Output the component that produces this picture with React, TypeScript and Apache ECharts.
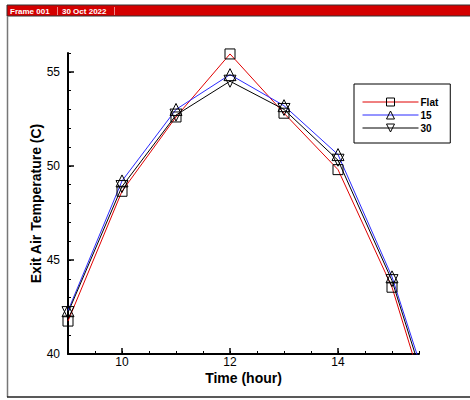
import React, { useEffect, useRef } from "react";
import * as echarts from "echarts";

const hours = [9, 10, 11, 12, 13, 14, 15, 16];
const flatValues = [41.75, 48.65, 52.6, 55.95, 52.8, 49.8, 43.55, 34.2];
const tilt15Values = [42.3, 49.2, 53.0, 54.85, 53.2, 50.6, 44.1, 35.2];
const tilt30Values = [42.2, 48.9, 52.7, 54.5, 53.0, 50.3, 43.9, 34.8];
const seriesNames = ["Flat", "15", "30"];
const xMajorTicks = [10, 12, 14];
const yMajorTicks = [40, 45, 50, 55];

const FONT = "'Liberation Sans', Arial, sans-serif";

export default function App() {
  const ref = useRef<HTMLDivElement>(null);
  useEffect(() => {
    if (!ref.current) return;
    const chart = echarts.init(ref.current, undefined, { renderer: "svg" });
    const pair = (vals: number[]) => hours.map((h, i) => [h, vals[i]]);
    const mk = (name: string, vals: number[], color: string, symbol: string, size: number, rotate: number) => ({
      name,
      type: "line",
      data: pair(vals),
      xAxisIndex: 0,
      yAxisIndex: 0,
      symbol,
      symbolSize: size,
      symbolRotate: rotate,
      showAllSymbol: true,
      clip: true,
      lineStyle: { color, width: 1 },
      itemStyle: { color: "rgba(0,0,0,0)", borderColor: "#000", borderWidth: 1 },
      emphasis: { disabled: true },
    });
    chart.setOption({
      animation: false,
      backgroundColor: "#fff",
      grid: { left: 68, right: 51, top: 53, bottom: 46, containLabel: false },
      xAxis: [
        {
          type: "value",
          min: 9,
          max: 15.5,
          name: "Time (hour)",
          nameLocation: "middle",
          nameGap: 17,
          nameMoveOverlap: false,
          nameTextStyle: { fontFamily: FONT, fontWeight: "bold", fontSize: 14, color: "#000", lineHeight: 14 },
          axisLine: { show: true, lineStyle: { color: "#000", width: 2 } },
          axisTick: { show: true, inside: true, length: 6, customValues: xMajorTicks, lineStyle: { color: "#000", width: 1.5 } },
          axisLabel: { show: true, customValues: xMajorTicks, fontFamily: FONT, fontSize: 12, color: "#000", margin: 2, lineHeight: 12 },
          splitLine: { show: false },
        },
        {
          type: "value",
          min: 9,
          max: 15.5,
          interval: 0.5,
          position: "bottom",
          axisLine: { show: false },
          axisTick: { show: true, inside: true, length: 3, lineStyle: { color: "#000", width: 1 } },
          axisLabel: { show: false },
          splitLine: { show: false },
        },
      ],
      yAxis: [
        {
          type: "value",
          min: 40,
          max: 56,
          name: "Exit Air Temperature (C)",
          nameLocation: "middle",
          nameGap: 25,
          nameMoveOverlap: false,
          nameTextStyle: { fontFamily: FONT, fontWeight: "bold", fontSize: 14, color: "#000" },
          axisLine: { show: true, lineStyle: { color: "#000", width: 2 } },
          axisTick: { show: true, inside: true, length: 6, customValues: yMajorTicks, lineStyle: { color: "#000", width: 1.5 } },
          axisLabel: { show: true, customValues: yMajorTicks, fontFamily: FONT, fontSize: 12, color: "#000", margin: 8 },
          splitLine: { show: false },
        },
        {
          type: "value",
          min: 40,
          max: 56,
          interval: 1,
          position: "left",
          axisLine: { show: false },
          axisTick: { show: true, inside: true, length: 3, lineStyle: { color: "#000", width: 1 } },
          axisLabel: { show: false },
          splitLine: { show: false },
        },
      ],
      legend: {
        data: seriesNames,
        orient: "vertical",
        left: 354,
        top: 84,
        width: 98,
        padding: [13, 12, 10, 8],
        itemGap: 3,
        itemWidth: 56,
        itemHeight: 10,
        borderColor: "#000",
        borderWidth: 1,
        backgroundColor: "#fff",
        lineStyle: { width: 1 },
        itemStyle: { borderWidth: 1 },
        textStyle: { fontFamily: FONT, fontWeight: "bold", fontSize: 10, color: "#000", padding: [0, 0, 0, -3] },
        selectedMode: false,
      },
      graphic: [
        { type: "rect", shape: { x: 7, y: 5, width: 470, height: 11 }, style: { fill: "#d40000", stroke: "#333", lineWidth: 1 }, silent: true },
        { type: "text", x: 10, y: 11, style: { text: "Frame 001", fill: "#fff", font: `bold 8px ${FONT}`, textVerticalAlign: "middle", verticalAlign: "middle" } },
        { type: "line", shape: { x1: 57.5, y1: 7, x2: 57.5, y2: 15 }, style: { stroke: "#e88", lineWidth: 1 } },
        { type: "text", x: 62, y: 11, style: { text: "30 Oct 2022", fill: "#fff", font: `bold 8px ${FONT}`, textVerticalAlign: "middle", verticalAlign: "middle" } },
        { type: "line", shape: { x1: 114.5, y1: 7, x2: 114.5, y2: 15 }, style: { stroke: "#e88", lineWidth: 1 } },
        { type: "line", shape: { x1: 7.5, y1: 16, x2: 7.5, y2: 397 }, style: { stroke: "#777", lineWidth: 1.5 } },
        { type: "line", shape: { x1: 7, y1: 397, x2: 470, y2: 397 }, style: { stroke: "#222", lineWidth: 1.5 } },
      ],
      series: [
        mk(seriesNames[0], flatValues, "#e00000", "rect", 10, 0),
        mk(seriesNames[1], tilt15Values, "#2a2aff", "triangle", 12, 0),
        mk(seriesNames[2], tilt30Values, "#000000", "triangle", 12, 180),
      ],
    });
    return () => chart.dispose();
  }, []);
  return <div ref={ref} style={{ position: "fixed", left: 0, top: 0, width: 470, height: 400 }} />;
}
